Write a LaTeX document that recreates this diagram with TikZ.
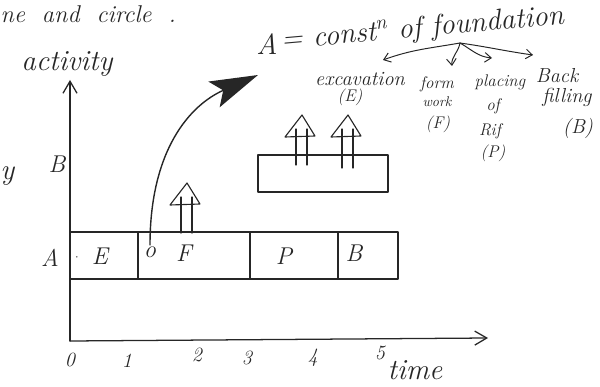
\documentclass[tikz,border=0pt]{standalone}
\usetikzlibrary{arrows.meta,positioning}

\begin{document}
\begin{tikzpicture}[
    x=0.025cm, y=-0.025cm,
    >=Latex,
    ink/.style       = {line width=0.9pt, draw=black!85, line cap=round, line join=round},
    axis/.style      = {ink, -{Straight Barb[length=3mm, width=3.5mm]}},
    barbox/.style    = {ink},
    uphead/.style    = {ink, line width=0.8pt},
    jump/.style      = {ink, line width=1pt, -{Stealth[length=12mm, width=7mm, inset=2.5mm]}},
    branch/.style    = {ink, line width=0.7pt, -{Straight Barb[length=1.6mm, width=2.4mm]}},
    hand/.style      = {font=\itshape, text=black!85, inner sep=1pt},
    big-lbl/.style   = {hand, font=\huge\itshape},
    row-lbl/.style   = {hand, font=\LARGE\itshape},
    tick-lbl/.style  = {hand, font=\Large\itshape},
    sub-lbl/.style   = {hand, font=\large\itshape}
  ]
\useasboundingbox (0,0) rectangle (600,387);

% =========================================================
% Double-stem up arrow: #1 = apex x, #2 = apex y, #3 = foot y
% =========================================================
\newcommand{\dblarrow}[3]{%
  \draw[uphead] ({#1-17},{#2+22}) -- (#1,#2) -- ({#1+13},{#2+21}) -- cycle;
  \draw[uphead] ({#1-6},{#2+14}) -- ({#1-6},#3);
  \draw[uphead] ({#1+5},{#2+14}) -- ({#1+5},#3);
}

% cut-off words at the page edges
\node[row-lbl, anchor=base west] (cut-top)  at (-1,23)  {ne \ and \ circle \ .};
\node[big-lbl, anchor=base east] (cut-left) at (16,180) {y};

% =========================================================
% Axes
% =========================================================
\coordinate (origin) at (70,341);
\coordinate (y-end)  at (70,80);
\coordinate (x-end)  at (488,338);
\draw[axis] (origin) -- (y-end);
\draw[axis] (origin) -- (x-end);

\node[big-lbl] (act-lbl)  at (67,64)   {activity};
\node[big-lbl] (time-lbl) at (415,370) {time};

\foreach \n/\xx/\yy in {0/70/360, 1/127/361, 2/197/355, 3/247/358, 4/313/358, 5/380/353}
  \node[tick-lbl] (tick-\n) at (\xx,\yy) {\n};

\node[row-lbl] (row-B) at (57,164) {B};
\node[row-lbl] (row-A) at (50,258) {A};

% =========================================================
% Row A -- the four stages
% =========================================================
\foreach \xa/\xb in {70/138, 138/250, 250/338, 338/398}
  \draw[barbox] (\xa,232) rectangle (\xb,279);

\node[hand, font=\small] (dot-E) at (77,258) {$\cdot$};
\node[row-lbl] (lbl-E)   at (100,256) {E};
\node[row-lbl] (f-start) at (150,252) {o};
\node[row-lbl] (lbl-F)   at (184,253) {F};
\node[row-lbl] (lbl-P)   at (284,256) {P};
\node[row-lbl] (lbl-B)   at (354,253) {B};

\dblarrow{187}{183}{233}

% Row B box with its arrows
\draw[barbox] (258,155) rectangle (388,192);
\dblarrow{302}{115}{165}
\dblarrow{348}{115}{168}

% curved jump arrow
\coordinate (jump-tip) at (258,75);
\draw[jump] (f-start.north) .. controls (150,150) and (190,105) .. (jump-tip);

% =========================================================
% Legend: A = construction of foundation
% =========================================================
\node[big-lbl] (title-A) at (267,44) {A};
\node[big-lbl, anchor=base west, rotate=5] (title) at (280,49)
  {= const\textsuperscript{n} of foundation};

\node[sub-lbl, font=\Large\itshape] (exc)   at (360,79)  {excavation};
\node[sub-lbl] (exc-E)   at (350,97)  {(E)};
\node[sub-lbl] (form)    at (437,84)  {form};
\node[sub-lbl, font=\normalsize\itshape] (form-2) at (437,102) {work};
\node[sub-lbl] (form-F)  at (438,124) {(F)};
\node[sub-lbl] (place)   at (500,82)  {placing};
\node[sub-lbl] (place-2) at (493,106) {of};
\node[sub-lbl] (place-3) at (490,131) {Rif};
\node[sub-lbl] (place-P) at (493,153) {(P)};
\node[sub-lbl, font=\Large\itshape] (back)   at (557,76)  {Back};
\node[sub-lbl, font=\Large\itshape] (back-2) at (567,97)  {filling};
\node[sub-lbl, font=\Large\itshape] (back-B) at (578,128) {(B)};

\coordinate (fork)  at (460,43);
\coordinate (tip-e) at (383,60);
\coordinate (tip-f) at (452,66);
\coordinate (tip-p) at (492,58);
\coordinate (tip-b) at (533,55);
\draw[branch] (fork) to[out=190, in=20]  (tip-e);
\draw[branch] (fork) to[out=-100, in=95] (tip-f);
\draw[branch] (fork) to[out=-30, in=175] (tip-p);
\draw[branch] (fork) to[out=-8, in=172]  (tip-b);

\end{tikzpicture}
\end{document}
